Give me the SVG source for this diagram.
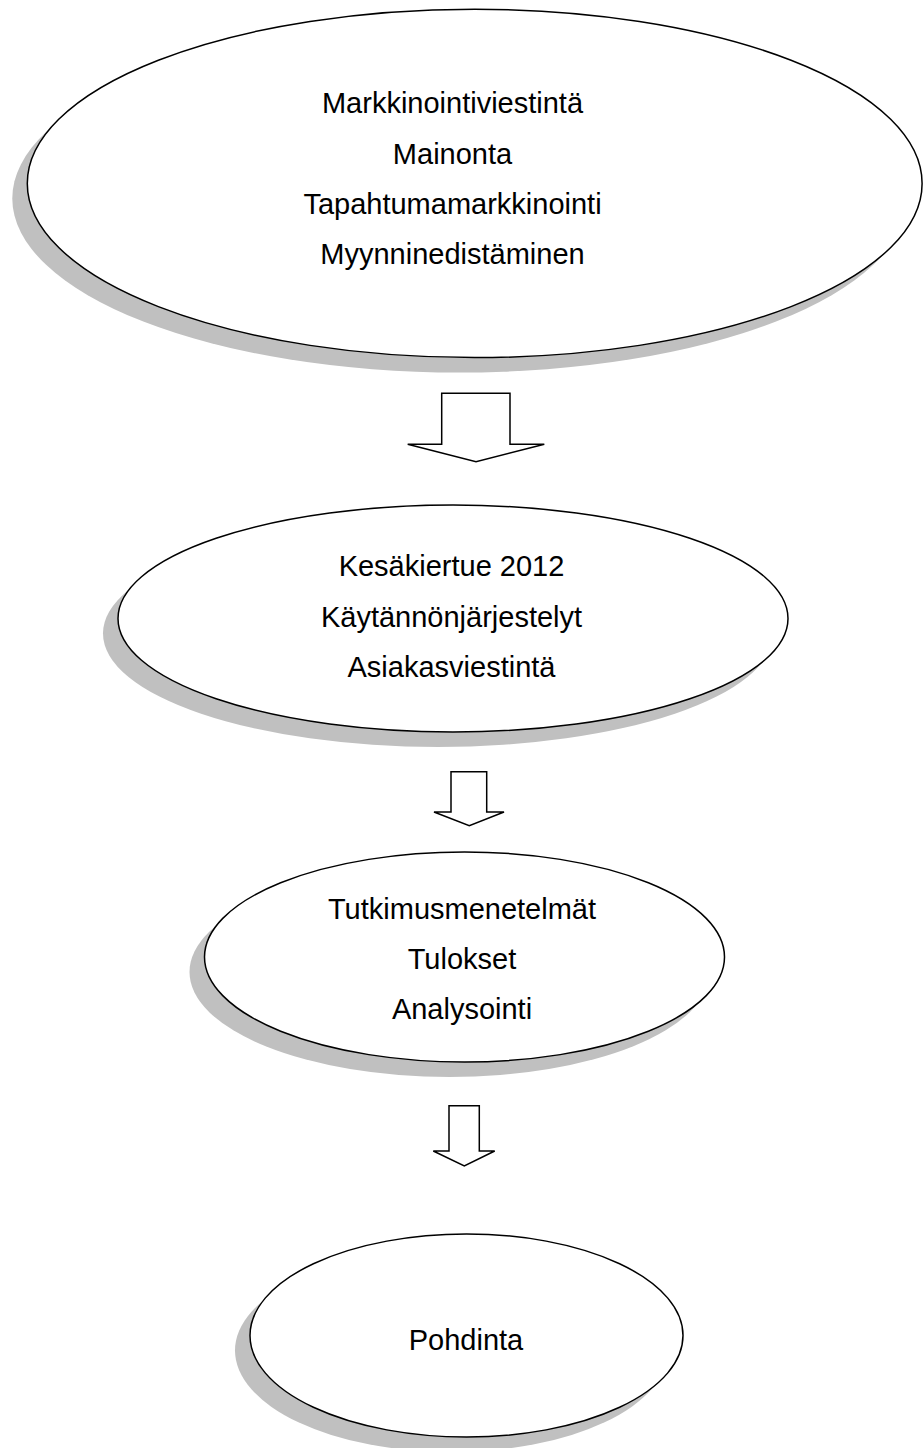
<svg xmlns="http://www.w3.org/2000/svg" width="924" height="1448" viewBox="0 0 924 1448">
<style>
.shadow{fill:#c0c0c0;stroke:none}
.shape{fill:#ffffff;stroke:#000000;stroke-width:1.5}
.arrow{fill:#ffffff;stroke:#000000;stroke-width:1.5;stroke-linejoin:miter}
text{font-family:"Liberation Sans",Arial,sans-serif;font-size:29px;fill:#000000;text-anchor:middle}
</style>
<rect x="0" y="0" width="924" height="1448" fill="#ffffff"/>
<g id="node1">
<ellipse class="shadow" cx="459.7" cy="198.4" rx="447.4" ry="174.2"/>
<ellipse class="shape" cx="474.7" cy="183.4" rx="447.4" ry="174.2"/>
<text x="452.5" y="113.3">Markkinointiviestintä</text>
<text x="452.5" y="163.5">Mainonta</text>
<text x="452.5" y="213.7">Tapahtumamarkkinointi</text>
<text x="452.5" y="264">Myynninedistäminen</text>
</g>
<g id="node2">
<ellipse class="shadow" cx="438" cy="633.5" rx="335" ry="113.5"/>
<ellipse class="shape" cx="453" cy="618.5" rx="335" ry="113.5"/>
<text x="451.5" y="576">Kesäkiertue 2012</text>
<text x="451.5" y="626.5">Käytännönjärjestelyt</text>
<text x="451.5" y="677">Asiakasviestintä</text>
</g>
<g id="node3">
<ellipse class="shadow" cx="449.5" cy="972" rx="260" ry="105"/>
<ellipse class="shape" cx="464.5" cy="957" rx="260" ry="105"/>
<text x="462" y="918.5">Tutkimusmenetelmät</text>
<text x="462" y="969">Tulokset</text>
<text x="462" y="1019">Analysointi</text>
</g>
<g id="node4">
<ellipse class="shadow" cx="451.5" cy="1350.5" rx="216.5" ry="101.5"/>
<ellipse class="shape" cx="466.5" cy="1335.5" rx="216.5" ry="101.5"/>
<text x="466" y="1350">Pohdinta</text>
</g>
<g id="connectors">
<polygon class="arrow" points="441.7,393.3 510,393.3 510,444.3 544.3,444.3 476,461.7 407.7,444.3 441.7,444.3"/>
<polygon class="arrow" points="451,771.7 486.7,771.7 486.7,812 504,812 469.3,825.7 434,812 451,812"/>
<polygon class="arrow" points="449,1105.7 479.3,1105.7 479.3,1151 494.7,1151 464.3,1166 433.3,1151 449,1151"/>
</g>
</svg>
